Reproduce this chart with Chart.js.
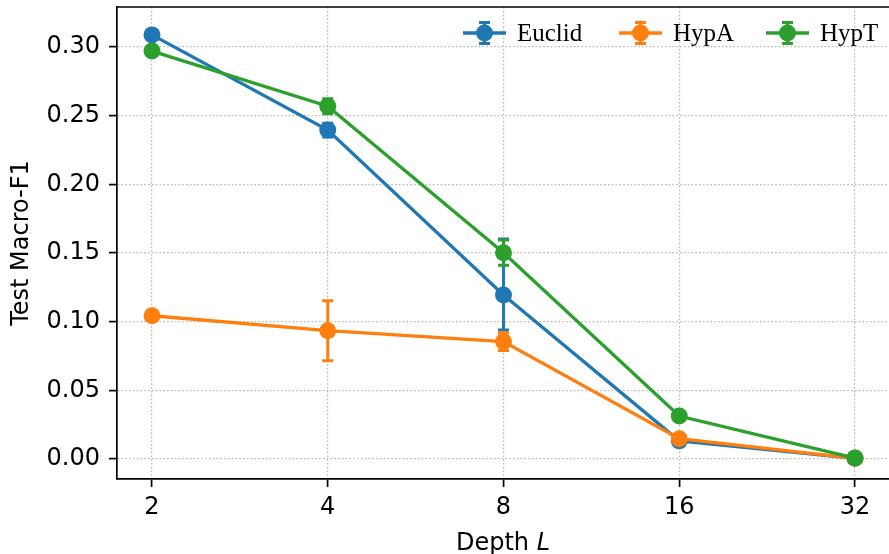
<!DOCTYPE html>
<html>
<head>
<meta charset="utf-8">
<script src="https://cdn.jsdelivr.net/npm/chart.js@4/dist/chart.umd.min.js"></script>
<style>
html,body{margin:0;padding:0;background:#fff;overflow:hidden;}
#wrap{width:889px;height:554px;overflow:hidden;position:relative;}
canvas{display:block;}
</style>
</head>
<body>
<div id="wrap"><canvas id="c" width="893" height="554"></canvas></div>
<script>
const depths = [2, 4, 8, 16, 32];
const yTicks = [0, 0.05, 0.10, 0.15, 0.20, 0.25, 0.30];
const seriesNames = ['Euclid', 'HypA', 'HypT'];
const seriesColors = ['#1f77b4', '#ff7f0e', '#2ca02c'];

const euclidVals = [0.3088, 0.2395, 0.1194, 0.0132, 0.0005];
const euclidErrDown = [0.0015, 0.0050, 0.0255, 0.0010, 0.0003];
const euclidErrUp = [0.0015, 0.0050, 0.0408, 0.0010, 0.0003];

const hypAVals = [0.1043, 0.0934, 0.0855, 0.0148, 0.0005];
const hypAErrDown = [0.0010, 0.0218, 0.0065, 0.0010, 0.0003];
const hypAErrUp = [0.0010, 0.0218, 0.0065, 0.0010, 0.0003];

const hypTVals = [0.2970, 0.2568, 0.1502, 0.0313, 0.0007];
const hypTErrDown = [0.0015, 0.0055, 0.0092, 0.0010, 0.0003];
const hypTErrUp = [0.0015, 0.0055, 0.0092, 0.0010, 0.0003];

const xTitle = 'Depth ';
const xTitleItalic = 'L';
const yTitle = 'Test Macro-F1';

const allVals = [euclidVals, hypAVals, hypTVals];
const allDown = [euclidErrDown, hypAErrDown, hypTErrDown];
const allUp = [euclidErrUp, hypAErrUp, hypTErrUp];

const LW = 3.3, R = 8.5, CAP = 5.5;
const FS = 24;

const datasets = seriesNames.map((name, i) => ({
  label: name,
  data: depths.map((d, k) => ({x: d, y: allVals[i][k]})),
  borderColor: seriesColors[i],
  backgroundColor: seriesColors[i],
  pointBackgroundColor: seriesColors[i],
  pointBorderColor: seriesColors[i],
  pointRadius: R,
  pointBorderWidth: 0,
  pointHoverRadius: R,
  borderWidth: LW,
  tension: 0,
  fill: false,
  order: 3 - i,
  errDown: allDown[i],
  errUp: allUp[i]
}));

const errorBars = {
  id: 'errorBars',
  beforeDatasetDraw(chart, args) {
    const ds = chart.data.datasets[args.index];
    const xs = chart.scales.x, ys = chart.scales.y;
    const ctx = chart.ctx;
    ctx.save();
    ctx.strokeStyle = ds.borderColor;
    ctx.lineWidth = LW * 0.9;
    ctx.lineCap = 'butt';
    ds.data.forEach((p, k) => {
      const px = xs.getPixelForValue(p.x);
      const yLo = ys.getPixelForValue(p.y - ds.errDown[k]);
      const yHi = ys.getPixelForValue(p.y + ds.errUp[k]);
      ctx.beginPath();
      ctx.moveTo(px, yLo); ctx.lineTo(px, yHi);
      ctx.moveTo(px - CAP, yLo); ctx.lineTo(px + CAP, yLo);
      ctx.moveTo(px - CAP, yHi); ctx.lineTo(px + CAP, yHi);
      ctx.stroke();
    });
    ctx.restore();
  }
};

const decor = {
  id: 'decor',
  afterDraw(chart) {
    const ctx = chart.ctx, a = chart.chartArea;
    ctx.save();
    ctx.strokeStyle = '#000';
    ctx.lineWidth = 1.7;
    ctx.beginPath();
    ctx.moveTo(a.left - 0.85, a.top);
    ctx.lineTo(chart.width, a.top);
    ctx.stroke();
    ctx.fillStyle = '#000';
    ctx.font = FS + 'px "DejaVu Sans"';
    const w1 = ctx.measureText(xTitle).width;
    ctx.font = 'italic ' + FS + 'px "DejaVu Sans"';
    const w2 = ctx.measureText(xTitleItalic).width;
    const cx = 503;
    const startX = cx - (w1 + w2) / 2;
    ctx.textBaseline = 'alphabetic';
    ctx.textAlign = 'left';
    ctx.font = FS + 'px "DejaVu Sans"';
    ctx.fillText(xTitle, startX, 550);
    ctx.font = 'italic ' + FS + 'px "DejaVu Sans"';
    ctx.fillText(xTitleItalic, startX + w1, 550);
    ctx.save();
    ctx.translate(28, (a.top + a.bottom) / 2);
    ctx.rotate(-Math.PI / 2);
    ctx.textAlign = 'center';
    ctx.font = FS + 'px "DejaVu Sans"';
    ctx.fillText(yTitle, 0, 0);
    ctx.restore();
    const starts = [463, 619, 766];
    const ly = 33;
    seriesNames.forEach((name, i) => {
      const s = starts[i];
      ctx.strokeStyle = seriesColors[i];
      ctx.fillStyle = seriesColors[i];
      ctx.lineWidth = LW;
      ctx.beginPath();
      ctx.moveTo(s, ly); ctx.lineTo(s + 43, ly);
      ctx.stroke();
      const mx = s + 21.5;
      ctx.lineWidth = LW * 0.9;
      ctx.beginPath();
      ctx.moveTo(mx, ly - 10.5); ctx.lineTo(mx, ly + 10.5);
      ctx.moveTo(mx - CAP, ly - 10.5); ctx.lineTo(mx + CAP, ly - 10.5);
      ctx.moveTo(mx - CAP, ly + 10.5); ctx.lineTo(mx + CAP, ly + 10.5);
      ctx.stroke();
      ctx.beginPath();
      ctx.arc(mx, ly, R, 0, Math.PI * 2);
      ctx.fill();
      ctx.fillStyle = '#000';
      ctx.font = '25px "Liberation Serif"';
      ctx.textAlign = 'left';
      ctx.textBaseline = 'alphabetic';
      ctx.fillText(name, s + 54, 41);
    });
    ctx.restore();
  }
};

const gridColor = 'rgba(170,170,170,0.85)';
const gridDash = [1.6, 2.2];

new Chart(document.getElementById('c'), {
  type: 'line',
  data: {datasets},
  options: {
    responsive: false,
    animation: false,
    devicePixelRatio: 1,
    layout: {autoPadding: false, padding: {top: 7, right: 0, bottom: 0, left: 0}},
    plugins: {legend: {display: false}, tooltip: {enabled: false}, title: {display: false}},
    events: [],
    scales: {
      x: {
        type: 'logarithmic',
        min: Math.pow(2, 0.8009),
        max: Math.pow(2, 5 + 38 / 175.75),
        afterBuildTicks: s => { s.ticks = depths.map(v => ({value: v, major: false})); },
        afterFit: s => { s.height = 75; s.paddingLeft = 0; s.paddingRight = 0; s.paddingTop = 0; s.paddingBottom = 0; },
        ticks: {
          autoSkip: false, maxRotation: 0, minRotation: 0,
          color: '#000', padding: 6,
          font: {family: 'DejaVu Sans', size: FS},
          callback: v => String(v)
        },
        grid: {
          color: gridColor, lineWidth: 1.2, drawTicks: true, tickLength: 8,
          tickColor: '#000', tickWidth: 1.7, tickBorderDash: []
        },
        border: {display: true, color: '#000', width: 1.7, dash: gridDash}
      },
      y: {
        type: 'linear',
        min: -0.01456,
        max: 0.3291,
        afterBuildTicks: s => { s.ticks = yTicks.map(v => ({value: v})); },
        afterFit: s => { s.width = 117; s.paddingLeft = 0; s.paddingRight = 0; s.paddingTop = 0; s.paddingBottom = 0; },
        ticks: {
          color: '#000', padding: 9,
          font: {family: 'DejaVu Sans', size: FS},
          callback: v => Number(v).toFixed(2)
        },
        grid: {
          color: gridColor, lineWidth: 1.2, drawTicks: true, tickLength: 8,
          tickColor: '#000', tickWidth: 1.7, tickBorderDash: []
        },
        border: {display: true, color: '#000', width: 1.7, dash: gridDash}
      }
    }
  },
  plugins: [errorBars, decor]
});
</script>
</body>
</html>
